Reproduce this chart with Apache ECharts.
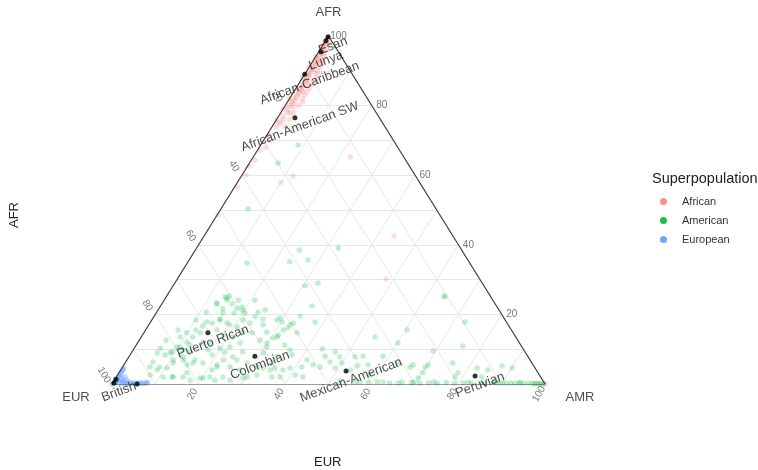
<!DOCTYPE html>
<html><head><meta charset="utf-8">
<script src="https://cdn.jsdelivr.net/npm/echarts@6/dist/echarts.min.js"></script>
<style>html,body{margin:0;padding:0;background:#fff}#c{width:758px;height:470px}</style>
</head><body><div id="c"></div>
<script>
// compositions: [AFR, EUR, AMR] in percent
const african = [
[99.5,0.5,0],[99,0.8,0.2],[98.5,1.2,0.3],[98,1.5,0.5],[97.5,2.2,0.3],[97,2.5,0.5],[96.5,3,0.5],[96,3.2,0.8],[95.5,4,0.5],[95,4.2,0.8],
[94.5,5,0.5],[94,5,1],[93.5,6,0.5],[93,6,1],[92.5,7,0.5],[92,7,1],[91.5,7.5,1],[91,8.2,0.8],[90.5,8.5,1],[90,9,1],
[89.5,9.8,0.7],[89,10,1],[88.5,10.3,1.2],[88,11,1],[87.5,11.3,1.2],[87,12,1],[86.5,12,1.5],[86,13,1],[85.5,13.2,1.3],[85,14,1],
[84.5,14,1.5],[84,15,1],[83.5,15,1.5],[83,16,1],[82.5,16,1.5],[82,17,1],[81.5,17,1.5],[81,18,1],[80.5,18,1.5],[80,19,1],
[79,20,1],[78,20.5,1.5],[77,22,1],[76,22.5,1.5],[75,24,1],
[92,5.5,2.5],[88,9,3],[85,12,3],[90,7.5,2.5],[83,14,3],[80,17,3],[86,11,3],[94,4,2],[96,2.5,1.5],[98,1,1],
[97,3,0],[94,6,0],[91,9,0],[88,12,0],[85,15,0],[82,18,0],[79,21,0],[76,24,0],
[93,5,2],[91,6.5,2.5],[89,8,3],[87,9.5,3.5],[84,13,3],[82,15,3],[81,15.5,3.5],[78,19,3],[76,21,3],[74,23,3],
[95,3.5,1.5],[92.5,6,1.5],[89.5,8.5,2],[86.5,11.5,2],[84,14,2],[79.5,18.5,2],
[77.9,19.9,2.2],[75.3,23.5,1.2],[73.9,25.1,1],[71.6,27.9,0.5],[67.2,32.2,0.6],[64.4,34.8,0.8],[62.6,37,0.4],
[60,39.1,0.9],[56.6,42.8,0.6],[48.6,51.2,0.2],[70,28.5,1.5],[68,30.5,1.5],
[59.8,28.3,11.9],[57.8,32.1,10.1],[65.2,12.4,22.4],[42.5,13.6,43.9],[30.2,21.6,48.2]
];
const american = [
[23.0,64.3,12.7],[24.1,61.4,14.5],[23.0,60.8,16.2],[21.6,63.6,14.8],[20.4,61.6,18.0],[22.1,58.9,19.0],[20.4,59.1,20.5],
[17.8,69.2,13.0],[17.5,68.1,14.4],[18.7,65.7,15.6],[17.5,64.7,17.8],[16.4,62.9,20.7],[17.5,59.4,23.1],[19.3,57.3,23.4],
[18.7,55.8,25.5],[14.9,56.8,28.3],[14.7,72.3,13.0],[13.5,74.6,11.9],[12.1,76.6,11.3],[10.6,79.0,10.4],[9.2,81.5,9.3],
[8.3,83.6,8.1],[8.9,85.1,6.0],[6.3,87.4,6.3],[4.9,88.8,6.3],[4.9,86.5,8.6],[4.6,85.0,10.4],[6.0,82.9,11.1],[2.0,85.1,12.9],
[2.0,87.2,10.8],[2.0,82.6,15.4],[1.1,81.4,17.5],[1.7,78.1,20.2],[4.0,74.9,21.1],[5.5,73.0,21.5],[6.9,70.9,22.2],[8.3,72.7,19.0],
[9.8,72.9,17.3],[10.3,69.9,19.8],[10.6,67.5,21.9],[11.8,64.5,23.7],[9.2,65.2,25.6],[7.8,68.2,24.0],[4.9,70.3,24.8],[4.0,68.4,27.6],
[2.0,67.8,30.2],[2.6,65.2,32.2],[4.6,62.8,32.6],[6.0,60.1,33.9],[2.0,62.1,35.9],[2.0,73.4,24.6],[1.1,75.7,23.2],[7.8,79.7,12.5],
[9.2,77.4,13.4],[6.9,77.4,15.7],[5.5,79.9,14.6],[10.6,58.9,30.5],[12.6,59.5,27.9],[13.2,56.2,30.6],[14.7,60.3,25.0],[14.9,62.3,22.8],
[13.5,65.3,21.2],[14.1,67.3,18.6],[15.5,68.0,16.5],
[25.0,61.4,13.6],[24.1,58.8,17.1],[20.7,67.9,11.4],[18.4,71.4,10.2],[15.5,77.0,7.5],[12.6,81.2,6.2],[10.3,83.7,6.0],[24.1,54.9,21.0],
[21.3,54.0,24.7],[19.0,51.7,29.3],[11.2,54.5,34.3],[8.3,54.3,37.4],
[23.3,64.1,12.6],[25.3,60.3,14.4],[20.4,64.2,15.4],[21.8,60.2,18.0],[21.3,59.1,19.6],[16.7,70.7,12.6],[18.4,65.9,15.7],[17.0,64.3,18.7],
[18.4,60.6,21.0],[20.7,55.9,23.4],[17.0,56.6,26.4],[18.4,52.7,28.9],[15.5,52.7,31.8],[17.5,49.4,33.1],[14.7,49.9,35.4],[13.5,55.1,31.4],
[11.8,58.3,29.9],[8.9,60.6,30.5],[7.8,58.0,34.2],[9.8,54.0,36.2],[2.0,60.2,37.8],[4.0,61.5,34.5],[4.9,64.0,31.1],[6.0,65.8,28.2],
[6.9,67.7,25.4],[9.2,69.3,21.5],[4.9,73.3,21.8],[6.0,76.0,18.0],[6.0,78.3,15.7],[6.9,80.1,13.0],[6.9,82.4,10.7],[4.0,87.6,8.4],
[2.6,89.9,7.5],[2.0,84.9,13.1],[3.2,81.1,15.7],[1.7,78.8,19.5],[2.0,76.4,21.6],[1.1,72.2,26.7],[1.7,68.9,29.4],[11.2,76.4,12.4],
[11.8,73.1,15.1],[11.8,71.5,16.7],[9.8,78.7,11.5],[10.6,79.7,9.7],[9.0,82.1,8.9],[15.5,72.9,11.6],[14.7,75.4,9.9],[13.5,77.5,9.0],
[35.1,41.4,23.5],[35.6,36.9,27.5],[28.2,41.3,30.5],[29.0,37.9,33.1],[22.4,42.6,35.0],[19.5,46.8,33.7],[17.8,51.8,30.4],[17.0,50.4,32.6],
[17.8,44.2,38.0],[14.1,54.6,31.3],[16.1,51.3,32.6],[13.5,32.5,54.0],[11.8,28.1,60.1],[15.5,24.1,60.4],[10.1,46.4,43.5],[9.2,43.9,46.9],
[8.0,46.8,45.2],[7.8,43.5,48.7],[6.3,46.5,47.2],[6.9,51.5,41.6],[5.5,50.8,43.7],[4.9,53.7,41.4],[4.6,56.6,38.8],[4.0,58.5,37.5],
[4.6,60.1,35.3],[2.6,56.4,41.0],[2.0,54.9,43.1],[4.9,49.5,45.6],[4.6,46.2,49.2],[6.0,43.9,50.1],[7.8,40.0,52.2],[8.0,38.0,54.0],
[5.5,38.1,56.4],[5.2,40.8,54.0],[4.0,43.0,53.0],[8.0,33.4,58.6],[5.5,31.2,63.3],[0.6,32.7,66.7],[0.6,37.1,62.3],[0.6,42.4,57.0],
[0.9,46.9,52.2],[2.6,39.1,58.3],
[25.0,10.6,64.4],[17.8,9.6,72.6],[9.5,21.1,69.4],[10.9,13.5,75.6],[6.0,18.3,75.7],[4.9,28.7,66.4],[5.5,27.7,66.8],[4.9,25.2,69.9],
[5.5,24.2,70.3],[3.2,26.6,70.2],[1.7,28.4,69.9],[2.0,19.8,78.2],[3.2,18.5,78.3],[4.6,13.4,82.0],[4.0,11.2,84.8],[5.2,7.3,87.5],
[4.6,5.3,90.1],[2.0,13.6,84.4],
[68.7,22.7,8.6],[63.5,29.9,6.6],[50.3,43.4,6.3],[38.5,37.5,24.0],[39.1,28.2,32.7],[34.8,51.4,13.8],[24.7,61.1,14.2],[25.3,10.7,64.0],
[0.3,35.7,64],[0.2,33.8,66],[0.4,30.6,69],[0.2,28.8,71],[0.3,26.7,73],[0.2,24.8,75],[0.4,22.6,77],[0.2,20.8,79],[0.3,18.7,81],
[0.2,16.8,83],[0.3,14.7,85],[0.2,13.8,86],[0.3,11.7,88],[0.2,10.8,89],[0.3,9.7,90],[0.2,8.8,91],[0.3,7.7,92],[0.2,6.8,93],
[0.3,5.7,94],[0.2,4.8,95],[0.3,3.7,96],[0.2,2.8,97],[0.1,2.4,97.5],[0.2,1.8,98],[0.1,1.4,98.5],[0.1,0.9,99],[0.1,0.4,99.5],
[0,0,100],[0.5,30,69.5],[0.6,25.4,74],[0.5,17.5,82],[0.6,11.4,88],[0.4,5.6,94],[0.5,43.5,56],[0.4,40.6,59],[0.6,38.4,61]
];
const european = [
[0,100,0],[0.3,99.5,0.2],[0.5,99,0.5],[1,98.5,0.5],[1.5,98,0.5],[2,97.5,0.5],[2.5,97,0.5],[3,96.5,0.5],[3.5,96,0.5],
[0.5,98,1.5],[0.3,97.5,2.2],[0.2,97,2.8],[0.3,96.5,3.2],[0.2,96,3.8],[0.3,95.5,4.2],[0.2,95,4.8],[0.3,94.5,5.2],[0.2,94,5.8],
[0.3,93.5,6.2],[0.2,93,6.8],[0.3,92.5,7.2],[0.2,92,7.8],[0.5,91.5,8],[1,97,2],[1.5,97,1.5],[0.8,98.4,0.8],[2,96,2],[1,96,3],
[4,95.5,0.5],[4.5,95,0.5]
];
const meanNames = ['Esan','','Lunya','African-Caribbean','African-American SW','Puerto Rican','Colombian','Mexican-American','Peruvian','British','',''];
const meanValues = [
[99.8,0.2,0],[98.6,1.3,0.1],[95.5,4,0.5],[89,11,0],[76.5,19.5,4],[14.7,70.5,14.8],[8,63,29],[3.7,44.1,52.2],[2.3,15,82.7],
[0.3,99.4,0.3],[0,94.2,5.8],[1.4,98.4,0.2]
];
const gridBreaks = [10,20,30,40,50,60,70,80,90];
const tickValues = [20,40,60,80,100];
const vertexNames = ['AFR','EUR','AMR'];
const seriesNames = ['African','American','European'];

function tern(p){ const s=p[0]+p[1]+p[2]; const afr=p[0]/s*100, amr=p[2]/s*100; return [amr+afr/2, afr]; }

const gridLines = [];
gridBreaks.forEach(k=>{
  gridLines.push({coords:[tern([k,100-k,0]),tern([k,0,100-k])]});
  gridLines.push({coords:[tern([100-k,k,0]),tern([0,k,100-k])]});
  gridLines.push({coords:[tern([100-k,0,k]),tern([0,100-k,k])]});
});
const V = [[100,0,0],[0,100,0],[0,0,100]];
const edges = [[0,1],[1,2],[2,0]].map(e=>({coords:[tern(V[e[0]]),tern(V[e[1]])]}));

const FONT = 'Liberation Sans, Arial, sans-serif';
const tickStyle = {fontSize:10,color:'#555',fontFamily:FONT,align:'center',verticalAlign:'middle'};
function tickSeries(comp, pos, rot){
  return {type:'scatter',symbolSize:0,silent:true,z:5,
    data: tickValues.map(v=>({value:tern(comp(v)),name:String(v)})),
    label:Object.assign({show:true,position:pos,rotate:rot,formatter:'{b}'},tickStyle)};
}

const colors = {African:'rgba(248,118,109,0.3)',American:'rgba(0,186,56,0.3)',European:'rgba(97,156,255,0.5)'};
const groups = [african, american, european];

const option = {
  animation:false,
  backgroundColor:'#fff',
  grid:{left:112,top:36,width:433,height:348,containLabel:false},
  xAxis:{type:'value',min:0,max:100,show:false},
  yAxis:{type:'value',min:0,max:100,show:false},
  legend:{
    orient:'vertical',left:655,top:191,itemWidth:7,itemHeight:7,itemGap:8,icon:'circle',
    textStyle:{fontSize:11,color:'#333',fontFamily:FONT,padding:[0,0,0,10]},
    data:[
      {name:'African',itemStyle:{color:'#F8766D',opacity:0.8}},
      {name:'American',itemStyle:{color:'#00BA38',opacity:0.9}},
      {name:'European',itemStyle:{color:'#619CFF',opacity:0.9}}
    ]
  },
  graphic:[
    {type:'text',left:652,top:171,style:{text:'Superpopulation',fontSize:14.5,fill:'#222',fontFamily:FONT}},
    {type:'text',left:8,top:202,rotation:Math.PI/2,style:{text:'AFR',fontSize:13,fill:'#222',fontFamily:FONT}},
    {type:'text',left:314,top:456,style:{text:'EUR',fontSize:13,fill:'#222',fontFamily:FONT}}
  ],
  series:[
    {type:'lines',coordinateSystem:'cartesian2d',silent:true,z:1,data:gridLines,lineStyle:{color:'#e6e6e6',width:1,opacity:1}},
    ...groups.map((g,i)=>({name:seriesNames[i],type:'scatter',symbolSize:5.5,z:2,
      data:g.map(tern),itemStyle:{color:colors[seriesNames[i]]}})),
    {type:'lines',coordinateSystem:'cartesian2d',silent:true,z:3,data:edges,lineStyle:{color:'#3a3a3a',width:1.2,opacity:1}},
    tickSeries(v=>[v,0,100-v],[10,0],0),
    tickSeries(v=>[100-v,v,0],[-8,-9],-60),
    tickSeries(v=>[0,100-v,v],[-6,10],60),
    {type:'scatter',symbolSize:0,silent:true,z:6,
      data:V.map((c,i)=>({value:tern(c),name:vertexNames[i]})),
      label:{show:true,formatter:'{b}',fontSize:13,color:'#222',fontFamily:FONT,align:'center',verticalAlign:'middle',
        position:'inside'},
      labelLayout:function(p){const o=[[0,-24],[-36,13],[35,13]][p.dataIndex];return {dx:o[0],dy:o[1]};}
    },
    {type:'scatter',symbolSize:5,z:7,silent:true,
      data:meanValues.map((c,i)=>({value:tern(c),name:meanNames[i]})),
      itemStyle:{color:'#000'},
      label:{show:true,formatter:'{b}',position:[7.5,11.5],rotate:20,align:'center',verticalAlign:'middle',
        fontSize:13,color:'#1a1a1a',fontFamily:FONT}}
  ]
};
const chart = echarts.init(document.getElementById('c'),null,{renderer:'canvas'});
chart.setOption(option);
</script>
</body></html>
